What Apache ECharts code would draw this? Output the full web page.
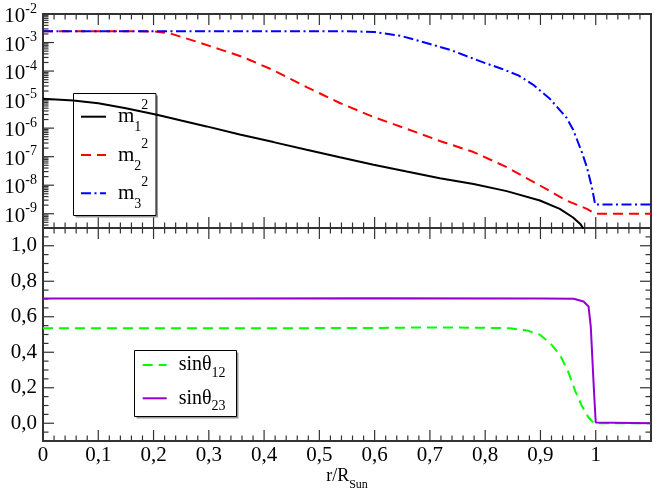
<!DOCTYPE html>
<html><head><meta charset="utf-8">
<script src="https://cdn.jsdelivr.net/npm/echarts@6/dist/echarts.min.js"></script>
<style>html,body{margin:0;padding:0;background:#fff}#c{width:654px;height:493px;background:#fff}</style>
</head><body><div id="c"></div>
<script>
// ---- data ----
const rM1 = [0, 0.055, 0.1, 0.15, 0.206, 0.25, 0.296, 0.356, 0.417, 0.477, 0.537, 0.598, 0.658, 0.718, 0.779, 0.839, 0.899, 0.935, 0.959, 0.972, 0.978, 0.981];
const m1Sq = [1.07e-5, 9.3e-6, 7.4e-6, 5.0e-6, 2.95e-6, 1.86e-6, 1.15e-6, 6.0e-7, 3.24e-7, 1.74e-7, 9.5e-8, 5.2e-8, 3.0e-8, 1.74e-8, 1.1e-8, 6.2e-9, 2.9e-9, 1.48e-9, 7.4e-10, 4.4e-10, 2.95e-10, 3.0e-11];

const rM2 = [0, 0.1, 0.2, 0.23, 0.278, 0.32, 0.356, 0.375, 0.417, 0.477, 0.537, 0.598, 0.658, 0.718, 0.779, 0.839, 0.899, 0.947, 0.984, 0.999, 1.1];
const m2Sq = [2.5e-3, 2.5e-3, 2.45e-3, 2.09e-3, 1.07e-3, 5.75e-4, 3.39e-4, 2.4e-4, 1.07e-4, 2.75e-5, 7.6e-6, 2.45e-6, 9.5e-7, 3.55e-7, 1.45e-7, 4.3e-8, 9.8e-9, 2.9e-9, 1.48e-9, 1.0e-9, 1.0e-9];

const rM3 = [0, 0.3, 0.55, 0.6, 0.646, 0.7, 0.736, 0.767, 0.8, 0.827, 0.86, 0.887, 0.917, 0.947, 0.959, 0.966, 0.975, 0.984, 0.993, 0.999, 1.1];
const m3Sq = [2.5e-3, 2.5e-3, 2.5e-3, 2.33e-3, 1.74e-3, 8.9e-4, 5.6e-4, 3.3e-4, 1.9e-4, 1.26e-4, 7.1e-5, 3.3e-5, 1.07e-5, 2.34e-6, 8.9e-7, 4.0e-7, 1.41e-7, 4.3e-8, 8.5e-9, 2.1e-9, 2.1e-9];

const rS12 = [0, 0.2, 0.4, 0.6, 0.7, 0.8, 0.845, 0.875, 0.899, 0.917, 0.935, 0.951, 0.963, 0.975, 0.987, 0.997, 1.1];
const sin12 = [0.535, 0.535, 0.535, 0.537, 0.54, 0.538, 0.535, 0.523, 0.499, 0.453, 0.387, 0.284, 0.181, 0.097, 0.032, 0.0, 0.0];

const rS23 = [0, 0.3, 0.6, 0.9, 0.96, 0.978, 0.987, 0.991, 0.994, 0.997, 1.0, 1.1];
const sin23 = [0.703, 0.703, 0.704, 0.703, 0.701, 0.686, 0.658, 0.546, 0.359, 0.172, 0.004, 0.0];

// ---- tick values ----
const xMajorTicks = [0, 0.1, 0.2, 0.3, 0.4, 0.5, 0.6, 0.7, 0.8, 0.9, 1.0, 1.1];
const xMinorPerMajor = 5;
const decadeExponents = [-9, -8, -7, -6, -5, -4, -3, -2];
const logMinorMultipliers = [2, 3, 4, 5, 6, 7, 8, 9];
const sinMajorTicks = [0, 0.2, 0.4, 0.6, 0.8, 1.0];
const sinMinorTicks = [-0.05, 0.05, 0.1, 0.15, 0.25, 0.3, 0.35, 0.45, 0.5, 0.55, 0.65, 0.7, 0.75, 0.85, 0.9, 0.95, 1.05];

// ---- build option ----
const FONT = "'Liberation Serif', 'Times New Roman', serif";
const AX = '#333';
const MAJ = 11, MIN = 5.5;
const logMin = -9.5, logMax = -2;
const logMinorTicks = [];
[-10, ...decadeExponents].forEach(n => logMinorMultipliers.forEach(k => {
  const v = n + Math.log10(k);
  if (v > logMin && v < logMax) logMinorTicks.push(v);
}));
const xMinorTicks = [];
for (let i = 0; i < xMajorTicks.length - 1; i++) {
  const a = xMajorTicks[i], b = xMajorTicks[i + 1];
  for (let j = 1; j < xMinorPerMajor; j++) xMinorTicks.push(a + (b - a) * j / xMinorPerMajor);
}
const toLog = (rs, vs) => rs.map((r, i) => [r, Math.log10(vs[i])]);
const toXY = (rs, vs) => rs.map((r, i) => [r, vs[i]]);

// tick items: [value, length, side(0 bottom,1 top,2 left,3 right), reference value on the other axis]
function tickItems(yMaj, yMin, yRef, rightSide) {
  const items = [];
  [0, 1].forEach(side => {
    xMajorTicks.forEach(v => items.push([v, MAJ, side, yRef]));
    xMinorTicks.forEach(v => items.push([v, MIN, side, yRef]));
  });
  const ySides = rightSide ? [2, 3] : [2];
  ySides.forEach(side => {
    yMaj.forEach(v => items.push([v, MAJ, side, 0.5]));
    yMin.forEach(v => items.push([v, MIN, side, 0.5]));
  });
  return items;
}
function tickRender(params, api) {
  const v = api.value(0), len = api.value(1), side = api.value(2), ref = api.value(3);
  const cs = params.coordSys;
  let shape;
  if (side < 2) {
    const px = api.coord([v, ref])[0];
    const y0 = side === 0 ? cs.y + cs.height : cs.y;
    const dir = side === 0 ? -1 : 1;
    shape = { x1: px, y1: y0, x2: px, y2: y0 + dir * len };
  } else {
    const py = api.coord([ref, v])[1];
    const x0 = side === 2 ? cs.x : cs.x + cs.width;
    const dir = side === 2 ? 1 : -1;
    shape = { x1: x0, y1: py, x2: x0 + dir * len, y2: py };
  }
  return { type: 'line', shape: shape, style: { stroke: AX, lineWidth: 1.2 } };
}

const COLORS = { m1: '#000000', m2: '#ff0000', m3: '#0000ff', s12: '#00ff00', s23: '#9400d3' };
const DASH = [10, 6], DASHDOT = [10, 3.5, 2, 3.5];

function xAx(grid, labels) {
  const ax = {
    type: 'value', gridIndex: grid, position: 'bottom', min: 0, max: 1.1, interval: 0.1,
    axisLine: { show: false, onZero: false }, splitLine: { show: false },
    axisTick: { show: false }, minorTick: { show: false }, axisLabel: { show: false }
  };
  if (labels) {
    ax.axisLabel = {
      show: true, margin: 4, fontFamily: FONT, fontSize: 21, lineHeight: 21, color: '#000', showMaxLabel: false,
      formatter: v => {
        if (Math.abs(v) < 1e-9) return '0';
        if (Math.abs(v - 1) < 1e-9) return '1';
        return v.toFixed(1).replace('.', ',');
      }
    };
    ax.name = '{a|r/R}{u|Sun}';
    ax.nameLocation = 'middle';
    ax.nameGap = 26;
    ax.nameTextStyle = {
      fontFamily: FONT, color: '#000',
      rich: {
        a: { fontFamily: FONT, fontSize: 18, lineHeight: 20, verticalAlign: 'top', color: '#000' },
        u: { fontFamily: FONT, fontSize: 12, lineHeight: 14, verticalAlign: 'top', padding: [12, 0, 0, 0], color: '#000' }
      }
    };
  }
  return ax;
}
function yAx(grid, min, max, values, fmt, rich) {
  const ax = {
    type: 'value', gridIndex: grid, position: 'left', min: min, max: max,
    axisLine: { show: false, onZero: false }, splitLine: { show: false },
    axisTick: { show: false }, minorTick: { show: false },
    axisLabel: { show: true, margin: 6, fontFamily: FONT, fontSize: 21, color: '#000', customValues: values, formatter: fmt }
  };
  if (rich) ax.axisLabel.rich = rich;
  return ax;
}

const legendCommon = { orient: 'vertical', padding: 0, itemHeight: 2, selectedMode: false, itemStyle: { opacity: 0, borderWidth: 0 } };

const option = {
  animation: false,
  grid: [
    { left: 43, width: 608, top: 14, height: 214, show: true, borderColor: AX, borderWidth: 2, outerBoundsMode: 'none' },
    { left: 43, width: 608, top: 228, height: 213, show: true, borderColor: AX, borderWidth: 2, outerBoundsMode: 'none' }
  ],
  xAxis: [xAx(0, false), xAx(1, true)],
  yAxis: [
    yAx(0, logMin, logMax, decadeExponents, v => '{b|10}{s|' + Math.round(v) + '}', {
      b: { fontFamily: FONT, fontSize: 21, lineHeight: 24, padding: [5, 0, 0, 0], color: '#000' },
      s: { fontFamily: FONT, fontSize: 14, lineHeight: 14, verticalAlign: 'top', color: '#000' }
    }),
    yAx(1, -0.1, 1.1, sinMajorTicks, v => v.toFixed(1).replace('.', ','))
  ],
  legend: [
    Object.assign({}, legendCommon, {
      data: [
        { name: 'm1', lineStyle: { color: COLORS.m1, width: 2, type: 'solid' } },
        { name: 'm2', lineStyle: { color: COLORS.m2, width: 2, type: DASH } },
        { name: 'm3', lineStyle: { color: COLORS.m3, width: 2, type: DASHDOT } }
      ],
      left: 80, top: 98.7, itemWidth: 25, itemGap: 2.3,
      formatter: n => '{m|m}{sub|' + n.slice(1) + '}{sup|2}',
      textStyle: {
        fontFamily: FONT, color: '#000',
        rich: {
          m: { fontFamily: FONT, fontSize: 21, lineHeight: 36, padding: [0, 0, 0, 7], color: '#000' },
          sub: { fontFamily: FONT, fontSize: 14, lineHeight: 14, verticalAlign: 'bottom', color: '#000' },
          sup: { fontFamily: FONT, fontSize: 14, lineHeight: 14, verticalAlign: 'top', color: '#000' }
        }
      }
    }),
    Object.assign({}, legendCommon, {
      data: [
        { name: 'sinθ12', lineStyle: { color: COLORS.s12, width: 2, type: DASH } },
        { name: 'sinθ23', lineStyle: { color: COLORS.s23, width: 2, type: 'solid' } }
      ],
      left: 141.7, top: 355, itemWidth: 24, itemGap: 8.3,
      formatter: n => '{s|sinθ}{sub|' + n.slice(4) + '}',
      textStyle: {
        fontFamily: FONT, color: '#000',
        rich: {
          s: { fontFamily: FONT, fontSize: 20, lineHeight: 30, padding: [0, 0, 0, 7], color: '#000' },
          sub: { fontFamily: FONT, fontSize: 14, lineHeight: 14, verticalAlign: 'bottom', color: '#000' }
        }
      }
    })
  ],
  graphic: [
    { type: 'rect', z: 3, shape: { x: 75.5, y: 95.5, width: 82.5, height: 122 }, style: { fill: '#999' } },
    { type: 'rect', z: 3, shape: { x: 73.5, y: 93.5, width: 82.5, height: 122 }, style: { fill: '#fff', stroke: '#000', lineWidth: 1 } },
    { type: 'rect', z: 3, shape: { x: 136.5, y: 352.5, width: 102, height: 66 }, style: { fill: '#999' } },
    { type: 'rect', z: 3, shape: { x: 134.5, y: 350.5, width: 102, height: 66 }, style: { fill: '#fff', stroke: '#000', lineWidth: 1 } }
  ],
  series: [
    { name: 'ticksTop', type: 'custom', xAxisIndex: 0, yAxisIndex: 0, renderItem: tickRender, data: tickItems(decadeExponents, logMinorTicks, -5, false), silent: true, clip: false },
    { name: 'ticksBottom', type: 'custom', xAxisIndex: 1, yAxisIndex: 1, renderItem: tickRender, data: tickItems(sinMajorTicks, sinMinorTicks, 0.5, true), silent: true, clip: false },
    { name: 'm1', type: 'line', xAxisIndex: 0, yAxisIndex: 0, data: toLog(rM1, m1Sq), symbol: 'none', showSymbol: false, lineStyle: { color: COLORS.m1, width: 2 }, itemStyle: { color: COLORS.m1 } },
    { name: 'm2', type: 'line', xAxisIndex: 0, yAxisIndex: 0, data: toLog(rM2, m2Sq), symbol: 'none', showSymbol: false, lineStyle: { color: COLORS.m2, width: 2, type: DASH }, itemStyle: { color: COLORS.m2 } },
    { name: 'm3', type: 'line', xAxisIndex: 0, yAxisIndex: 0, data: toLog(rM3, m3Sq), symbol: 'none', showSymbol: false, lineStyle: { color: COLORS.m3, width: 2, type: DASHDOT }, itemStyle: { color: COLORS.m3 } },
    { name: 'sinθ12', type: 'line', xAxisIndex: 1, yAxisIndex: 1, data: toXY(rS12, sin12), symbol: 'none', showSymbol: false, lineStyle: { color: COLORS.s12, width: 2, type: DASH }, itemStyle: { color: COLORS.s12 } },
    { name: 'sinθ23', type: 'line', xAxisIndex: 1, yAxisIndex: 1, data: toXY(rS23, sin23), symbol: 'none', showSymbol: false, lineStyle: { color: COLORS.s23, width: 2 }, itemStyle: { color: COLORS.s23 } }
  ]
};
const chart = echarts.init(document.getElementById('c'));
chart.setOption(option);
</script>
</body></html>
